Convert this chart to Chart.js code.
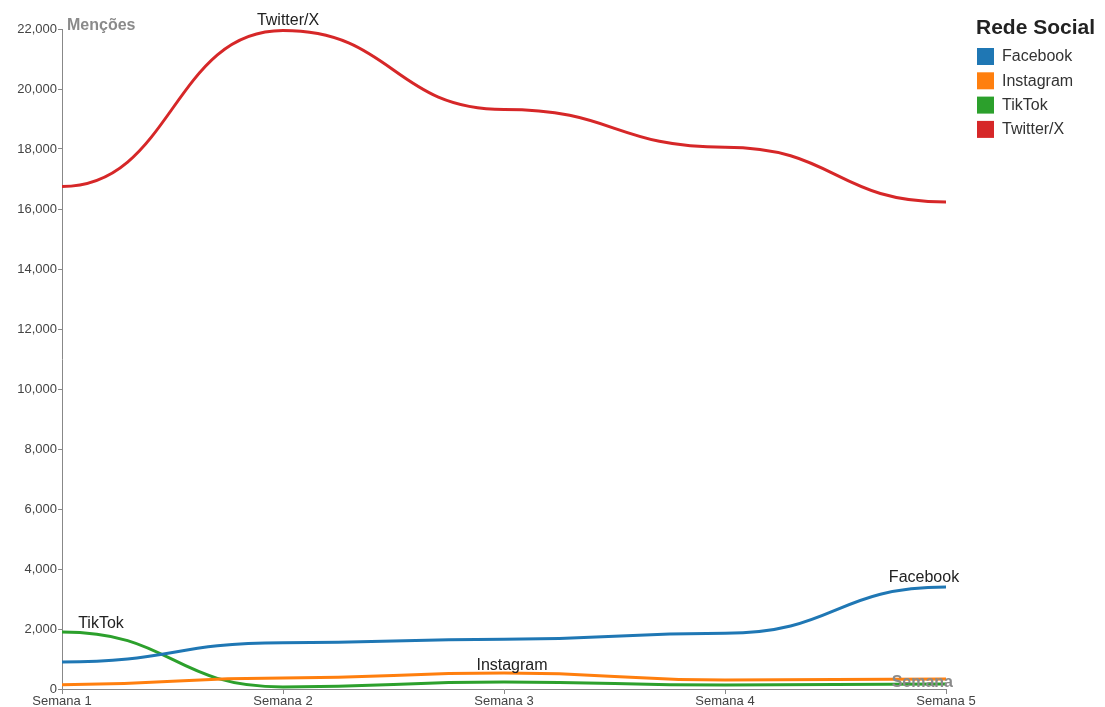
<!DOCTYPE html>
<html lang="pt">
<head>
<meta charset="UTF-8">
<title>Menções por Rede Social</title>
<script src="https://cdn.jsdelivr.net/npm/chart.js"></script>
<style>
    body { margin: 0; background: #fff; }
    #wrap { width: 1105px; height: 707px; position: relative; }
</style>
</head>
<body>
<div id="wrap"><canvas id="chart"></canvas></div>
<script>
// dados
const semanas = ['Semana 1', 'Semana 2', 'Semana 3', 'Semana 4', 'Semana 5'];
const redes = ['Facebook', 'Instagram', 'TikTok', 'Twitter/X'];
const facebook = [900, 1540, 1660, 1860, 3400];
const instagram = [140, 370, 530, 300, 330];
const tiktok = [1900, 70, 230, 130, 170];
const twitter = [16750, 21950, 19320, 18060, 16230];
const yTicks = [0, 2000, 4000, 6000, 8000, 10000, 12000, 14000, 16000, 18000, 20000, 22000];

const cores = ['#1f77b4', '#ff7f0e', '#2ca02c', '#d62728'];
const series = [facebook, instagram, tiktok, twitter];

const font = '"Liberation Sans", Arial, sans-serif';

// curva tipo "bump": tangente horizontal em cada ponto
const bumpCurve = {
    id: 'bumpCurve',
    beforeDatasetsDraw(chart) {
        chart.data.datasets.forEach((ds, i) => {
            const meta = chart.getDatasetMeta(i);
            const line = meta.dataset;
            line.updateControlPoints(chart.chartArea, 'x');
            const pts = meta.data;
            pts.forEach((p, j) => {
                const prev = pts[j - 1], next = pts[j + 1];
                p.cp1x = prev ? (prev.x + p.x) / 2 : p.x;
                p.cp1y = p.y;
                p.cp2x = next ? (p.x + next.x) / 2 : p.x;
                p.cp2y = p.y;
            });
            delete line._path;
        });
    }
};

// rótulos das séries, legenda e títulos dos eixos
const extras = {
    id: 'extras',
    afterDraw(chart) {
        const ctx = chart.ctx;
        const x = chart.scales.x, y = chart.scales.y;
        ctx.save();

        // rótulo no ponto máximo de cada série
        const offsets = [[-22, -9], [8, -8], [39, -8], [5, -10]];
        series.forEach((data, i) => {
            let m = 0;
            data.forEach((v, j) => { if (v > data[m]) m = j; });
            const px = x.getPixelForValue(m) + offsets[i][0];
            const py = y.getPixelForValue(data[m]) + offsets[i][1];
            ctx.font = '16px ' + font;
            ctx.fillStyle = '#222';
            ctx.textAlign = 'center';
            ctx.textBaseline = 'middle';
            ctx.fillText(redes[i], px, py);
        });

        // títulos dos eixos
        ctx.font = 'bold 16px ' + font;
        ctx.fillStyle = '#8a8a8a';
        ctx.textAlign = 'left';
        ctx.textBaseline = 'middle';
        ctx.fillText('Menções', chart.chartArea.left + 5, chart.chartArea.top - 3);
        ctx.textAlign = 'right';
        ctx.fillText('Semana', chart.chartArea.right + 7, chart.chartArea.bottom - 6);

        // legenda
        const lx = 976, ly = 28;
        ctx.font = 'bold 21px ' + font;
        ctx.fillStyle = '#222';
        ctx.textAlign = 'left';
        ctx.fillText('Rede Social', lx, ly);
        ctx.font = '16px ' + font;
        redes.forEach((r, i) => {
            const yy = ly + 28 + i * 24.3;
            ctx.fillStyle = cores[i];
            ctx.fillRect(lx + 1, yy - 8, 17, 17);
            ctx.fillStyle = '#333';
            ctx.fillText(r, lx + 26, yy + 1);
        });

        ctx.restore();
    }
};

new Chart(document.getElementById('chart'), {
    type: 'line',
    data: {
        labels: semanas,
        datasets: series.map((data, i) => ({
            label: redes[i],
            data: data,
            borderColor: cores[i],
            backgroundColor: cores[i],
            borderWidth: 3,
            pointRadius: 0,
            tension: 0.4,
            clip: false
        }))
    },
    options: {
        responsive: true,
        maintainAspectRatio: false,
        animation: false,
        locale: 'en-US',
        layout: { padding: { top: 29, right: 159, left: 0, bottom: 0 } },
        plugins: {
            legend: { display: false },
            tooltip: { enabled: false }
        },
        scales: {
            x: {
                offset: false,
                grid: { display: true, drawOnChartArea: false, drawTicks: true, tickLength: 5, color: '#888' },
                border: { color: '#888', width: 1 },
                ticks: { color: '#444', font: { family: font, size: 13 }, padding: 0, maxRotation: 0, autoSkip: false },
                afterFit(scale) { scale.height = 18; }
            },
            y: {
                min: 0,
                max: 22000,
                afterBuildTicks(scale) { scale.ticks = yTicks.map(v => ({ value: v })); },
                grid: { display: true, drawOnChartArea: false, drawTicks: true, tickLength: 4, color: '#888' },
                border: { color: '#888', width: 1 },
                ticks: { color: '#444', font: { family: font, size: 13 }, padding: 1 },
                afterFit(scale) { scale.width = 62; }
            }
        }
    },
    plugins: [bumpCurve, extras]
});
</script>
</body>
</html>
